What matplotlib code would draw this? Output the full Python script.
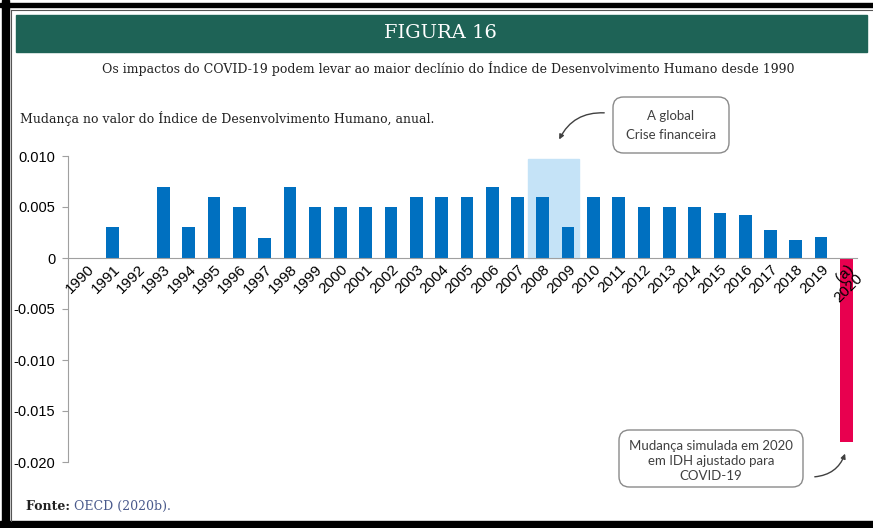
import matplotlib.pyplot as plt
import numpy as np
from matplotlib.patches import Rectangle, FancyBboxPatch, FancyArrowPatch
from matplotlib.lines import Line2D

# categories and values (change in HDI per year)
years = [str(y) for y in range(1990, 2020)] + ['(a)\n2020']
hdi_change = [0, 0.003, 0, 0.007, 0.003, 0.006, 0.005, 0.002, 0.007, 0.005,
              0.005, 0.005, 0.005, 0.006, 0.006, 0.006, 0.007, 0.006, 0.006, 0.003,
              0.006, 0.006, 0.005, 0.005, 0.005, 0.0044, 0.0042, 0.0027, 0.0018, 0.0021,
              -0.018]
ytick_vals = [0.010, 0.005, 0, -0.005, -0.010, -0.015, -0.020]
ytick_labels = ['0.010', '0.005', '0', '-0.005', '-0.010', '-0.015', '-0.020']

W, H = 873, 528
fig = plt.figure(figsize=(W / 100, H / 100), dpi=100)


def fx(px):
    return px / W


def fy(py):
    return 1 - py / H


# outer frame (black bands + thin inner line)
for r in [(2, 0, 7, H), (0, 3, W, 4), (0, 521, W, 7)]:
    fig.patches.append(Rectangle((fx(r[0]), fy(r[1] + r[3])), r[2] / W, r[3] / H,
                                 transform=fig.transFigure, color='black', zorder=0))
fig.lines.append(Line2D([fx(11), fx(11)], [fy(10), fy(521)], transform=fig.transFigure,
                        color='#555555', lw=0.8))
fig.lines.append(Line2D([fx(11), fx(W)], [fy(10), fy(10)], transform=fig.transFigure,
                        color='#555555', lw=0.8))

# green banner
fig.patches.append(Rectangle((fx(16), fy(52)), (867 - 16) / W, 37 / H,
                             transform=fig.transFigure, color='#1e6356', zorder=1))
fig.text(fx(440), fy(33), 'FIGURA 16', color='white', fontsize=14,
         family='DejaVu Serif', ha='center', va='center')
fig.text(fx(448), fy(68), 'Os impactos do COVID-19 podem levar ao maior declínio do Índice '
         'de Desenvolvimento Humano desde 1990', fontsize=9, family='DejaVu Serif',
         ha='center', va='center', color='#222222')
fig.text(fx(20), fy(118), 'Mudança no valor do Índice de Desenvolvimento Humano, anual.',
         fontsize=9, family='DejaVu Serif', ha='left', va='center', color='#222222')
t = fig.text(fx(26), fy(506), 'Fonte: ', fontsize=9, family='DejaVu Serif',
             ha='left', va='center', color='#222222', weight='bold')
fig.canvas.draw()
bb = t.get_window_extent()
fig.text(bb.x1 / W, fy(506), 'OECD (2020b).', fontsize=9, family='DejaVu Serif',
         ha='left', va='center', color='#4a5a8c')

# main chart
ax = fig.add_axes([fx(68), fy(462), (857 - 68) / W, 306 / H])
ax.set_axisbelow(False)
x = np.arange(len(years))
colors = ['#e8004f' if v < 0 else '#0070c0' for v in hdi_change]

ax.add_patch(Rectangle((17.41, 0), 2.02, 0.0097, color='#c5e3f7', zorder=0))
ax.bar(x, hdi_change, width=0.5, color=colors, zorder=2)

for s in ['top', 'right']:
    ax.spines[s].set_visible(False)
ax.spines['bottom'].set_position(('data', 0))
ax.spines['bottom'].set_color('#a0a0a0')
ax.spines['bottom'].set_zorder(3)
ax.spines['left'].set_color('#a0a0a0')
ax.tick_params(axis='y', direction='out', length=4, color='#a0a0a0', pad=5)
ax.tick_params(axis='x', length=0, pad=3)

ax.set_xlim(-0.77, 30.42)
ax.set_ylim(-0.020, 0.010)
ax.set_yticks(ytick_vals)
ax.set_yticklabels(ytick_labels, family='Liberation Sans', fontsize=10.5)
ax.set_xticks(x)
ax.set_xticklabels(years, rotation=45, ha='right', va='top', rotation_mode='anchor',
                   family='Liberation Sans', fontsize=11, linespacing=0.95)

# callouts: rounded boxes drawn in pixel coordinates
for (x0, y0, x1, y1) in [(613, 97, 729, 153), (619, 430, 803, 487)]:
    fig.patches.append(FancyBboxPatch((fx(x0), fy(y1)), (x1 - x0) / W, (y1 - y0) / H,
                                      boxstyle='round,pad=0,rounding_size=0.012',
                                      transform=fig.transFigure, fc='white',
                                      ec='#8a8a8a', lw=1, mutation_aspect=W / H))
fig.text(fx(671), fy(125), 'A global\nCrise financeira', fontsize=9.5, family='Lato',
         ha='center', va='center', color='#404040', linespacing=1.7)
fig.text(fx(711), fy(461), 'Mudança simulada em 2020\nem IDH ajustado para\nCOVID-19',
         fontsize=9.5, family='Lato', ha='center', va='center', color='#404040',
         linespacing=1.3)

for (x0, y0), (x1, y1), rad in [((607, 113), (558, 142), 0.35),
                                ((812, 477), (846, 451), 0.35)]:
    fig.patches.append(FancyArrowPatch((fx(x0), fy(y0)), (fx(x1), fy(y1)),
                                       transform=fig.transFigure,
                                       connectionstyle=f'arc3,rad={rad}',
                                       arrowstyle='-|>', mutation_scale=7,
                                       color='#404040', lw=1))

fig.savefig('out.png', dpi=100)
